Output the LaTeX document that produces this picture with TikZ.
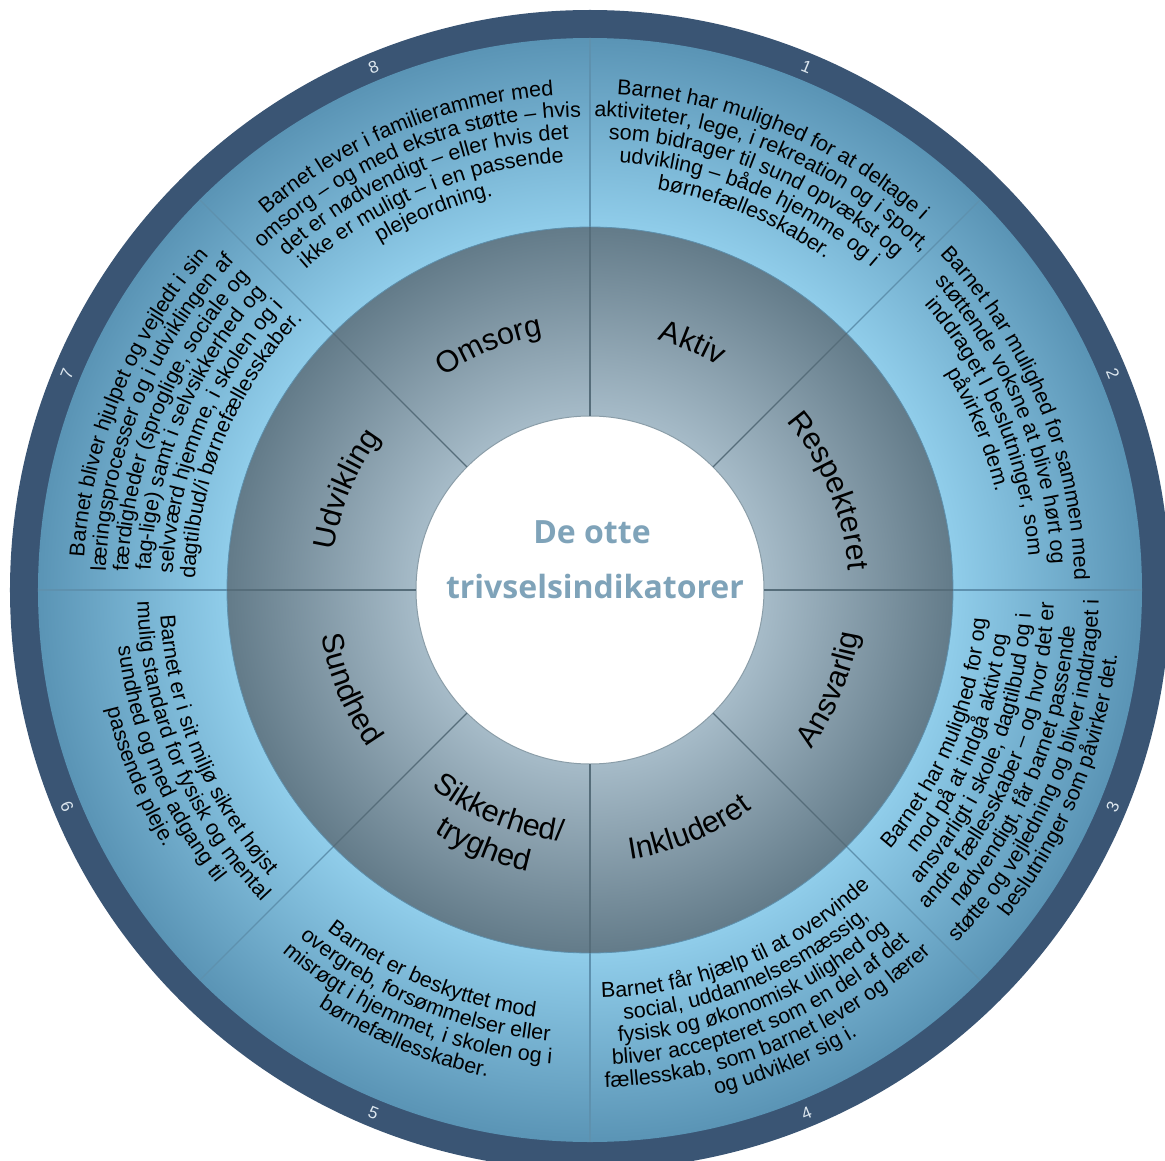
\documentclass[tikz,border=0pt]{standalone}
\usepackage{fontspec}
\setmainfont{Liberation Sans}
\newfontfamily\titlefont{Open Sans}
\usetikzlibrary{decorations.text}
\definecolor{darkring}{HTML}{3A5574}
\definecolor{lbin}{HTML}{90CDEA}
\definecolor{lbout}{HTML}{5A94B5}
\definecolor{gin}{HTML}{A6BBC8}
\definecolor{gout}{HTML}{637B89}
\definecolor{titlecol}{HTML}{7FA3B9}
\definecolor{numcol}{HTML}{DCE6EE}
\definecolor{divlight}{HTML}{5E91AE}
\definecolor{divgrey}{HTML}{566D7A}
\definecolor{rimcol}{HTML}{8A9DA8}
\pgfdeclareradialshading{lightring}{\pgfpoint{0bp}{0bp}}{color(0bp)=(lbin); color(16.44bp)=(lbin); color(25bp)=(lbout); color(50bp)=(lbout)}
\pgfdeclareradialshading{greyring}{\pgfpoint{0bp}{0bp}}{color(0bp)=(gin); color(11.98bp)=(gin); color(25bp)=(gout); color(50bp)=(gout)}
\newcommand\otxt{\fontsize{21.5}{22}\selectfont}
\newcommand\itxt{\fontsize{30.5}{32}\selectfont}
% text on an arc read clockwise (upper half)
\newcommand\arcup[4]{%
  \path[decorate,decoration={text along path,text align=center,text={|#1|#4}}]
    (#2+50:#3) arc[start angle=#2+50,end angle=#2-50,radius=#3];}
% text on an arc read counter-clockwise (lower half)
\newcommand\arcdown[4]{%
  \path[decorate,decoration={text along path,text align=center,text={|#1|#4}}]
    (#2-50:#3) arc[start angle=#2-50,end angle=#2+50,radius=#3];}
\tikzset{
  numlabel/.style={font=\fontsize{17}{18}\selectfont, text=numcol, inner sep=0pt},
  titletext/.style={font=\titlefont\bfseries\fontsize{32}{34}\selectfont, text=titlecol, anchor=base, inner sep=0pt},
  divl/.style={draw=divlight, line width=1.1pt},
  divg/.style={draw=divgrey, line width=1.1pt}
}
\begin{document}
\begin{tikzpicture}[x=1pt,y=1pt]
\useasboundingbox (-590,-570) rectangle (575,590);
\clip (-590,-570) rectangle (575,590);
% rings
\fill[darkring] (0,0) circle[radius=580];
\shade[shading=lightring] (0,0) circle[radius=552];
\shade[shading=greyring] (0,0) circle[radius=363];
\draw[divlight, line width=0.8pt] (0,0) circle[radius=363];
\fill[white] (0,0) circle[radius=174];
\draw[rimcol, line width=1pt] (0,0) circle[radius=174];
% dividers
\foreach \a in {0,45,...,315}{
  \draw[divl] (\a:363) -- (\a:552);
  \draw[divg] (\a:174) -- (\a:363);
}
% numbers
\node[numlabel, rotate=-22.5] (n1) at (67.5:566) {1};
\node[numlabel, rotate=-67.5] (n2) at (22.5:566) {2};
\node[numlabel, rotate=67.5] (n3) at (-22.5:566) {3};
\node[numlabel, rotate=22.5] (n4) at (-67.5:566) {4};
\node[numlabel, rotate=-22.5] (n5) at (-112.5:566) {5};
\node[numlabel, rotate=-67.5] (n6) at (-157.5:566) {6};
\node[numlabel, rotate=67.5] (n7) at (157.5:566) {7};
\node[numlabel, rotate=22.5] (n8) at (112.5:566) {8};
% title
\node[titletext] (title1) at (2,47) {De otte};
\node[titletext] (title2) at (5,-8) {trivselsindikatorer};
% inner labels
\arcup{\itxt}{67.5}{259}{Aktiv}
\arcup{\itxt}{22.5}{259}{Respekteret}
\arcup{\itxt}{157.5}{259}{Udvikling}
\arcup{\itxt}{112.5}{259}{Omsorg}
\arcdown{\itxt}{-22.5}{272.5}{Ansvarlig}
\arcdown{\itxt}{-67.5}{272.5}{Inkluderet}
\arcdown{\itxt}{-157.5}{272.5}{Sundhed}
\arcdown{\itxt}{-112.5}{253}{Sikkerhed/}
\arcdown{\itxt}{-112.5}{288}{tryghed}
% sector 1
\arcup{\otxt}{67.5}{495.8}{Barnet har mulighed for at deltage i}
\arcup{\otxt}{67.5}{473.4}{aktiviteter, lege, i rekreation og i sport,}
\arcup{\otxt}{67.5}{451}{som bidrager til sund opvækst og}
\arcup{\otxt}{67.5}{428.6}{udvikling – både hjemme og i}
\arcup{\otxt}{67.5}{406.2}{børnefællesskaber.}
% sector 2
\arcup{\otxt}{22.5}{484.6}{Barnet har mulighed for sammen med}
\arcup{\otxt}{22.5}{462.2}{støttende voksne at blive hørt og}
\arcup{\otxt}{22.5}{439.8}{inddraget I beslutninger, som}
\arcup{\otxt}{22.5}{417.4}{påvirker dem.}
% sector 3
\arcdown{\otxt}{-22.5}{396.8}{Barnet har mulighed for og}
\arcdown{\otxt}{-22.5}{419.2}{mod på at indgå aktivt og}
\arcdown{\otxt}{-22.5}{441.6}{ansvarligt i skole, dagtilbud og i}
\arcdown{\otxt}{-22.5}{464}{andre fællesskaber – og hvor det er}
\arcdown{\otxt}{-22.5}{486.4}{nødvendigt, får barnet passende}
\arcdown{\otxt}{-22.5}{508.8}{støtte og vejledning og bliver inddraget i}
\arcdown{\otxt}{-22.5}{531.2}{beslutninger som påvirker det.}
% sector 4
\arcdown{\otxt}{-67.5}{408}{Barnet får hjælp til at overvinde}
\arcdown{\otxt}{-67.5}{430.4}{social, uddannelsesmæssig,}
\arcdown{\otxt}{-67.5}{452.8}{fysisk og økonomisk ulighed og}
\arcdown{\otxt}{-67.5}{475.2}{bliver accepteret som en del af det}
\arcdown{\otxt}{-67.5}{497.6}{fællesskab, som barnet lever og lærer}
\arcdown{\otxt}{-67.5}{520}{og udvikler sig i.}
% sector 5
\arcdown{\otxt}{-112.5}{430.4}{Barnet er beskyttet mod}
\arcdown{\otxt}{-112.5}{452.8}{overgreb, forsømmelser eller}
\arcdown{\otxt}{-112.5}{475.2}{misrøgt i hjemmet, i skolen og i}
\arcdown{\otxt}{-112.5}{497.6}{børnefællesskaber.}
% sector 6
\arcdown{\otxt}{-157.5}{430.4}{Barnet er i sit miljø sikret højst}
\arcdown{\otxt}{-157.5}{452.8}{mulig standard for fysisk og mental}
\arcdown{\otxt}{-157.5}{475.2}{sundhed og med adgang til}
\arcdown{\otxt}{-157.5}{497.6}{passende pleje.}
% sector 7
\arcup{\otxt}{157.5}{507}{Barnet bliver hjulpet og vejledt i sin}
\arcup{\otxt}{157.5}{484.6}{læringsprocesser og i udviklingen af}
\arcup{\otxt}{157.5}{462.2}{færdigheder (sproglige, sociale og}
\arcup{\otxt}{157.5}{439.8}{fag-lige) samt i selvsikkerhed og}
\arcup{\otxt}{157.5}{417.4}{selvværd hjemme, i skolen og i}
\arcup{\otxt}{157.5}{395}{dagtilbud/i børnefællesskaber.}
% sector 8
\arcup{\otxt}{112.5}{495.8}{Barnet lever i familierammer med}
\arcup{\otxt}{112.5}{473.4}{omsorg – og med ekstra støtte – hvis}
\arcup{\otxt}{112.5}{451}{det er nødvendigt – eller hvis det}
\arcup{\otxt}{112.5}{428.6}{ikke er muligt – i en passende}
\arcup{\otxt}{112.5}{406.2}{plejeordning.}
\end{tikzpicture}
\end{document}
